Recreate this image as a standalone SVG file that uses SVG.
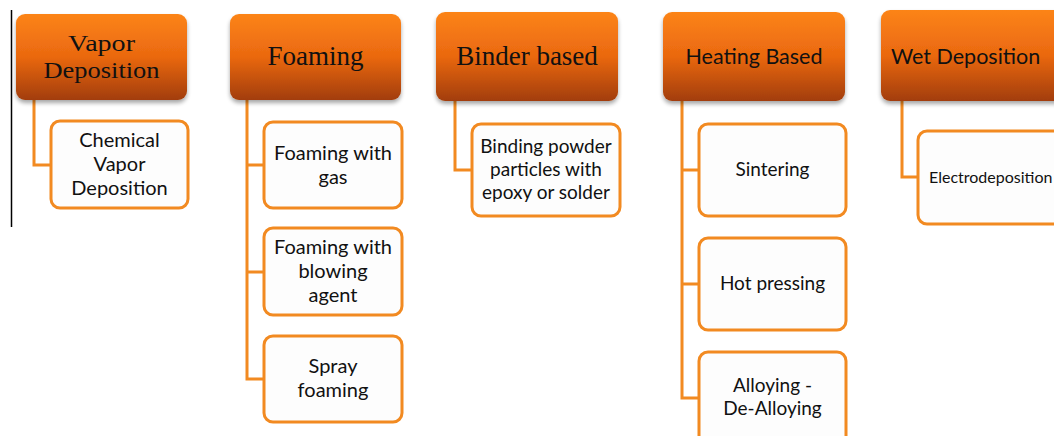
<svg xmlns="http://www.w3.org/2000/svg" width="1054" height="436" viewBox="0 0 1054 436">
<defs>
<linearGradient id="hg" x1="0" y1="0" x2="0" y2="1">
<stop offset="0" stop-color="#FC8418"/>
<stop offset="0.5" stop-color="#EA6810"/>
<stop offset="1" stop-color="#A23D08"/>
</linearGradient>
<filter id="sh" x="-10%" y="-10%" width="120%" height="130%">
<feGaussianBlur in="SourceAlpha" stdDeviation="2"/>
<feOffset dx="0" dy="3" result="b"/>
<feComponentTransfer><feFuncA type="linear" slope="0.35"/></feComponentTransfer>
<feMerge><feMergeNode/><feMergeNode in="SourceGraphic"/></feMerge>
</filter>
<style>
.hd{fill:url(#hg);filter:url(#sh)}
.ch{fill:#FDFDFD;stroke:#F28A21;stroke-width:3}
.cn{fill:none;stroke:#F28A21;stroke-width:3}
.sf{font-family:"Liberation Serif",serif;font-size:27px;fill:#111;text-anchor:middle}
.hs{font-family:"Lato","Liberation Sans",sans-serif;font-size:21.5px;fill:#111;text-anchor:middle}
.ct{font-family:"Lato","Liberation Sans",sans-serif;font-size:20px;fill:#111;text-anchor:middle}
.cs{font-family:"Lato","Liberation Sans",sans-serif;font-size:19px;fill:#111;text-anchor:middle}
</style>
</defs>
<rect width="1054" height="436" fill="#FFFFFF"/>
<line x1="11.5" y1="10" x2="11.5" y2="227" stroke="#000" stroke-width="1.5"/>
<g id="connectors">
<path class="cn" d="M34 100V165H51"/>
<path class="cn" d="M247 100V379H264M247 165H264M247 272H264"/>
<path class="cn" d="M455 101V170H472"/>
<path class="cn" d="M682 101V398H699M682 170H699M682 284H699"/>
<path class="cn" d="M902 101V177H918"/>
</g>
<g id="vapor">
<rect class="hd" x="16" y="14" width="171" height="86" rx="9"/>
<text class="sf" x="101.5" y="51" style="font-size:24px" textLength="67" lengthAdjust="spacingAndGlyphs">Vapor</text>
<text class="sf" x="101.5" y="78" style="font-size:24px" textLength="116" lengthAdjust="spacingAndGlyphs">Deposition</text>
</g>
<g id="cvd">
<rect class="ch" x="51" y="121" width="137" height="87" rx="9"/>
<text class="ct" x="119.5" y="147">Chemical</text>
<text class="ct" x="119.5" y="171">Vapor</text>
<text class="ct" x="119.5" y="195">Deposition</text>
</g>
<g id="foaming">
<rect class="hd" x="230" y="14" width="171" height="86" rx="9"/>
<text class="sf" x="315.5" y="65">Foaming</text>
</g>
<g id="foam-gas">
<rect class="ch" x="264" y="122" width="138" height="86" rx="9"/>
<text class="ct" x="333" y="160">Foaming with</text>
<text class="ct" x="333" y="184">gas</text>
</g>
<g id="foam-blow">
<rect class="ch" x="264" y="228" width="138" height="87" rx="9"/>
<text class="ct" x="333" y="254">Foaming with</text>
<text class="ct" x="333" y="278">blowing</text>
<text class="ct" x="333" y="302">agent</text>
</g>
<g id="foam-spray">
<rect class="ch" x="264" y="336" width="138" height="86" rx="9"/>
<text class="ct" x="333" y="373">Spray</text>
<text class="ct" x="333" y="397">foaming</text>
</g>
<g id="binder">
<rect class="hd" x="436" y="12" width="182" height="89" rx="9"/>
<text class="sf" x="527" y="65">Binder based</text>
</g>
<g id="binding">
<rect class="ch" x="472" y="124" width="148" height="92" rx="9"/>
<text class="cs" x="546" y="153">Binding powder</text>
<text class="cs" x="546" y="176">particles with</text>
<text class="cs" x="546" y="199">epoxy or solder</text>
</g>
<g id="heating">
<rect class="hd" x="663" y="12" width="182" height="89" rx="9"/>
<text class="hs" x="754" y="64">Heating Based</text>
</g>
<g id="sintering">
<rect class="ch" x="699" y="124" width="147" height="92" rx="9"/>
<text class="cs" x="772.5" y="176">Sintering</text>
</g>
<g id="hot-pressing">
<rect class="ch" x="699" y="238" width="147" height="92" rx="9"/>
<text class="cs" x="772.5" y="290">Hot pressing</text>
</g>
<g id="alloying">
<rect class="ch" x="699" y="352" width="147" height="96" rx="9"/>
<text class="cs" x="772.5" y="392">Alloying -</text>
<text class="cs" x="772.5" y="415">De-Alloying</text>
</g>
<g id="wet">
<rect class="hd" x="881" y="10" width="185" height="91" rx="9"/>
<text class="hs" x="891" y="64" style="text-anchor:start">Wet Deposition</text>
</g>
<g id="electro">
<rect class="ch" x="918" y="131" width="150" height="93" rx="9"/>
<text class="cs" x="929" y="183" style="text-anchor:start;font-size:16px">Electrodeposition</text>
</g>
</svg>
